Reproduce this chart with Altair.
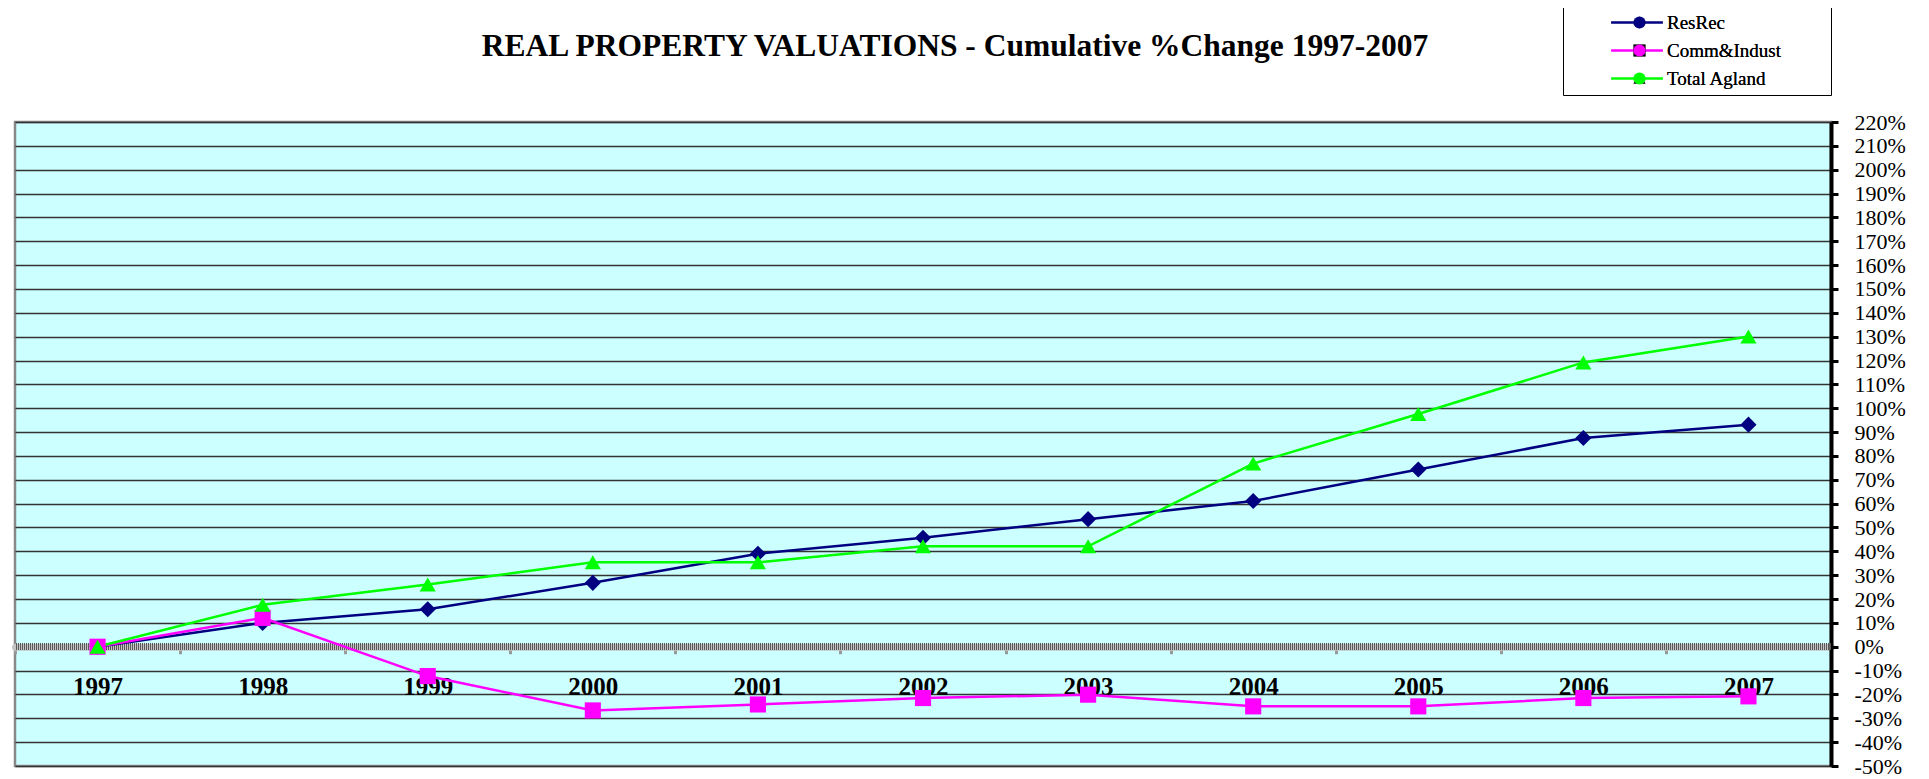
import altair as alt
import pandas as pd

# ---------------- data ----------------
years = ["1997", "1998", "1999", "2000", "2001", "2002", "2003", "2004", "2005", "2006", "2007"]
series_names = ["ResRec", "Comm&Indust", "Total Agland"]
resrec = [0.0, 10.0, 15.7, 26.8, 39.0, 45.7, 53.5, 61.1, 74.3, 87.5, 93.1]
comm_indust = [0.0, 12.1, -12.3, -26.7, -24.2, -21.5, -20.1, -25.0, -25.0, -21.5, -20.8]
total_agland = [0.0, 17.6, 26.1, 35.4, 35.4, 42.1, 42.1, 76.8, 97.6, 119.2, 130.1]
y_ticks = [-50, -40, -30, -20, -10, 0, 10, 20, 30, 40, 50, 60, 70, 80, 90, 100,
           110, 120, 130, 140, 150, 160, 170, 180, 190, 200, 210, 220]
title_text = "REAL PROPERTY VALUATIONS - Cumulative  %Change 1997-2007"

# ---------------- styling ----------------
series_colors = ["#000080", "#FF00FF", "#00FF00"]
plot_shapes = ["diamond", "square", "triangle-up"]
legend_line_path = "M-3.7,0H3.7"
FONT = "Liberation Serif"
W, H = 1816, 644
YMIN, YMAX = -50, 220

rows = []
for name, vals in zip(series_names, [resrec, comm_indust, total_agland]):
    for yr, v in zip(years, vals):
        rows.append({"year": yr, "series": name, "value": v})
df = pd.DataFrame(rows)

x_enc = alt.X(
    "year:N",
    bandPosition=0.5,
    scale=alt.Scale(type="band", domain=years, paddingInner=0, paddingOuter=0),
    axis=alt.Axis(
        orient="bottom", offset=-H * (0 - YMIN) / (YMAX - YMIN), title=None,
        labelAngle=0, labelFont=FONT, labelFontSize=25, labelFontWeight="bold",
        labelColor="black", labelPadding=21, grid=False,
        domainColor="#c4c4c4", domainWidth=7, domainCap="round",
        tickBand="extent", tickColor="#999999", tickWidth=3, tickSize=7,
    ),
)
y_scale = alt.Scale(domain=[YMIN, YMAX], nice=False, zero=False)
y_axis = alt.Axis(
    orient="right", values=y_ticks, labelExpr="datum.value + '%'", title=None,
    grid=True,
    gridColor=alt.condition("datum.value == 0", alt.value("transparent"), alt.value("#333333")),
    gridWidth=1.3,
    domainColor="black", domainWidth=4, tickColor="black", tickWidth=3, tickSize=7,
    labelFont=FONT, labelFontSize=22, labelColor="black", labelPadding=16,
    labelAlign="left", labelFlush=False, labelOverlap=False, labelBound=False,
)
y_enc = alt.Y("value:Q", scale=y_scale, axis=y_axis)

LEG_X, LEG_Y = 1548, -115

line_legend = alt.Legend(
    title=" ", titleOrient="right", titlePadding=154, titleFontSize=10,
    orient="none", legendX=LEG_X, legendY=LEG_Y,
    fillColor="white", strokeColor="black", padding=6,
    symbolType=legend_line_path, symbolSize=196, symbolStrokeWidth=2.5,
    symbolOffset=58.5, symbolOpacity=1,
    labelFont=FONT, labelFontSize=19, labelColor="black", labelExpr="''",
    labelOffset=24, rowPadding=8, labelLimit=300,
)
marker_legend = alt.Legend(
    title=None, orient="none", legendX=LEG_X, legendY=LEG_Y, padding=6,
    symbolSize=150, symbolStrokeWidth=0, symbolOffset=61, symbolOpacity=1,
    labelFont=FONT, labelFontSize=19, labelColor="black",
    labelOffset=18, rowPadding=8, labelLimit=300,
)

base = alt.Chart(df)

zero_texture = base.mark_rule(color="#5a5a5a", strokeWidth=6, strokeDash=[1, 1]).encode(
    y=alt.YDatum(0, scale=y_scale, axis=y_axis)
)

lines = base.mark_line(strokeWidth=2.5).encode(
    x=x_enc, y=y_enc,
    color=alt.Color("series:N", scale=alt.Scale(domain=series_names, range=series_colors),
                    legend=line_legend),
)

points = base.mark_point(filled=True, opacity=1, size=260, strokeWidth=0).encode(
    x=x_enc, y=y_enc,
    fill=alt.Fill("series:N", sort=series_names, scale=alt.Scale(range=series_colors),
                  legend=marker_legend),
    shape=alt.Shape("series:N", sort=series_names, scale=alt.Scale(range=plot_shapes),
                    legend=marker_legend),
)

chart = (
    alt.layer(zero_texture, lines, points)
    .properties(
        width=W, height=H,
        background="white",
        title=alt.TitleParams(
            text=title_text, font=FONT, fontSize=31.5, fontWeight="bold", color="black",
            anchor="middle", dx=32, offset=-56,
        ),
        autosize=alt.AutoSizeParams(type="none"),
        padding={"left": 7, "top": 114, "right": 80, "bottom": 12},
    )
    .configure_view(fill="#CCFFFF", stroke="#888888", strokeWidth=2.5)
)

chart.save("out.html", embed_options={"renderer": "svg", "actions": False})
